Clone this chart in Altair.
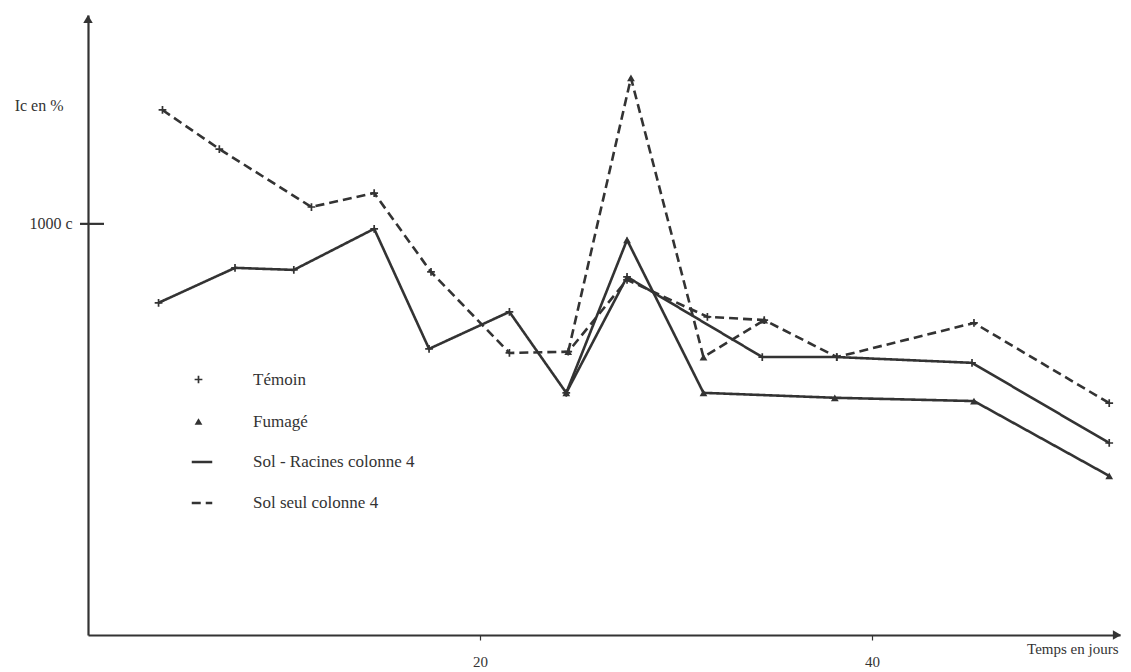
import altair as alt
import pandas as pd

# Témoin – Sol seul colonne 4 (dashed, + markers)
a_days = [3.8, 6.7, 11.4, 14.6, 17.5, 21.5, 24.5, 27.5, 31.6, 34.5, 38.2, 45.2, 52.1]
a_vals = [1277, 1182, 1041, 1075, 883, 686, 689, 864, 774, 766, 676, 759, 564]
# Témoin – Sol - Racines colonne 4 (solid, + markers)
b_days = [3.6, 7.5, 10.5, 14.6, 17.4, 21.5, 24.4, 27.5, 34.4, 38.2, 45.1, 52.1]
b_vals = [808, 893, 888, 988, 696, 786, 589, 871, 676, 676, 662, 467]
# Fumagé – Sol - Racines colonne 4 (solid, triangles)
c_days = [24.4, 27.5, 31.4, 38.1, 45.2, 52.1]
c_vals = [589, 961, 589, 577, 569, 387]
# Fumagé – Sol seul colonne 4 (dashed, triangles)
d_days = [24.5, 27.7, 31.4, 34.5]
d_vals = [689, 1355, 676, 766]

treatments = ["Témoin", "Fumagé"]
soils = ["Sol - Racines colonne 4", "Sol seul colonne 4"]

series = [
    ("A", "Témoin", "Sol seul colonne 4", a_days, a_vals),
    ("B", "Témoin", "Sol - Racines colonne 4", b_days, b_vals),
    ("C", "Fumagé", "Sol - Racines colonne 4", c_days, c_vals),
    ("D", "Fumagé", "Sol seul colonne 4", d_days, d_vals),
]
rows = []
for sid, tr, so, ds, vs in series:
    for d, v in zip(ds, vs):
        rows.append({"serie": sid, "traitement": tr, "sol": so, "jour": d, "ic": v})
df = pd.DataFrame(rows)

INK = "#333333"
FONT = "Liberation Serif"
W, H = 1032, 620
XMAX, YMAX = 52.65, 1508

xscale = alt.Scale(domain=[0, XMAX], nice=False, zero=True)
yscale = alt.Scale(domain=[0, YMAX], nice=False, zero=True)

xaxis = alt.Axis(
    values=[20, 40], title="Temps en jours", grid=False,
    domainColor=INK, domainWidth=2.2, tickColor=INK, tickSize=5, tickWidth=1.2,
    labelFont=FONT, labelFontSize=15, labelColor=INK, labelPadding=14,
    titleFont=FONT, titleFontSize=15, titleFontWeight="normal", titleColor=INK,
    titleX=W - 2, titleY=18, titleAlign="right", titleBaseline="alphabetic",
)
yaxis = alt.Axis(
    values=[1000], labelExpr="'1000 c'", title="Ic en %", grid=False, ticks=False,
    domainColor=INK, domainWidth=2.2,
    labelFont=FONT, labelFontSize=16, labelColor=INK, labelPadding=16,
    titleFont=FONT, titleFontSize=16, titleFontWeight="normal", titleColor=INK,
    titleAngle=0, titleX=-25, titleY=90, titleAlign="right", titleBaseline="middle",
)

cross = "M-1,-0.22H-0.22V-1H0.22V-0.22H1V0.22H0.22V1H-0.22V0.22H-1Z"

base = alt.Chart(df)
lines = base.mark_line(color=INK, strokeWidth=2.6).encode(
    x=alt.X("jour:Q", scale=xscale, axis=xaxis),
    y=alt.Y("ic:Q", scale=yscale, axis=yaxis),
    detail="serie:N",
    strokeDash=alt.StrokeDash(
        "sol:N",
        scale=alt.Scale(domain=soils, range=[[1, 0], [9, 5]]),
        legend=alt.Legend(
            title=None, orient="none", legendX=102, legendY=435,
            symbolType="stroke", symbolSize=420, symbolStrokeWidth=2.6,
            symbolStrokeColor=INK, labelFont=FONT, labelFontSize=17,
            labelColor=INK, labelOffset=39, rowPadding=21, padding=0,
            labelLimit=0,
        ),
    ),
)
points = base.mark_point(filled=True, color=INK, opacity=1, size=60).encode(
    x="jour:Q",
    y="ic:Q",
    shape=alt.Shape(
        "traitement:N",
        scale=alt.Scale(domain=treatments, range=[cross, "triangle-up"]),
        legend=alt.Legend(
            title=None, orient="none", legendX=102, legendY=356,
            symbolSize=60, symbolFillColor=INK, symbolStrokeWidth=0,
            labelFont=FONT, labelFontSize=17, labelColor=INK,
            labelOffset=46, rowPadding=24, padding=0, symbolOpacity=1,
            labelLimit=0,
        ),
    ),
)

one = alt.Chart(pd.DataFrame({"k": [0]}))
ytick = one.mark_rule(color=INK, strokeWidth=2.2).encode(
    y=alt.datum(1000), x=alt.value(-8), x2=alt.value(16)
)
arrow_up = one.mark_point(shape="triangle-up", filled=True, color=INK,
                          size=90, opacity=1).encode(
    x=alt.value(0), y=alt.value(4)
)
arrow_right = one.mark_point(shape="triangle-right", filled=True, color=INK,
                             size=90, opacity=1).encode(
    x=alt.value(W - 3), y=alt.value(H)
)

chart = alt.layer(lines, points, ytick, arrow_up, arrow_right).properties(
    width=W, height=H,
    autosize=alt.AutoSizeParams(type="none"),
    padding={"left": 80, "top": 7, "right": 3, "bottom": 36},
    background="white",
).configure_view(stroke=None)

chart.save("out.html", embed_options={"renderer": "svg", "actions": False})
